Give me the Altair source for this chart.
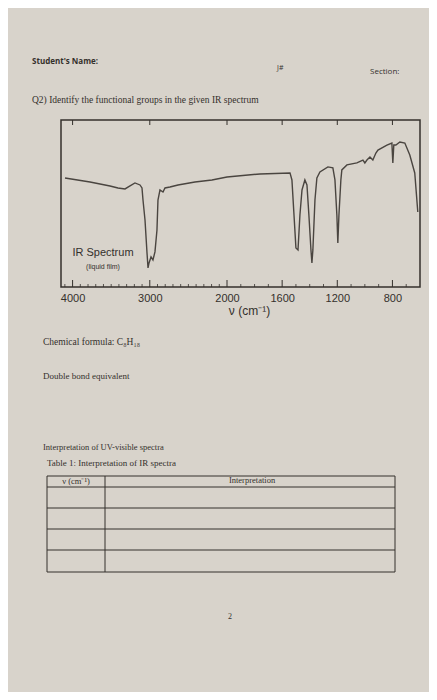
import altair as alt
import pandas as pd

# IR spectrum (wavenumber in cm^-1, transmittance in %)
wavenumber = [4098, 3774, 3515, 3412, 3321, 3256, 3192, 3127, 3101, 3088, 3062, 3036, 3023, 3010,
              2984, 2959, 2933, 2907, 2894, 2868, 2829, 2803, 2739, 2635, 2415, 2195, 2000, 1761,
              1543, 1529, 1514, 1500, 1485, 1471, 1456, 1435, 1420, 1406, 1391, 1384, 1377, 1362,
              1348, 1326, 1268, 1232, 1217, 1203, 1196, 1188, 1174, 1167, 1130, 1058, 1014, 1000,
              985, 963, 942, 920, 905, 840, 804, 797, 790, 775, 746, 710, 674, 638, 616]
transmittance = [65.3, 62.9, 60.5, 59.3, 58.7, 60.5, 62.3, 61.1, 59.3, 52.1, 40.1, 20.4, 11.4, 14.4,
                 18.0, 16.2, 21.0, 34.1, 52.1, 58.1, 56.9, 59.3, 59.9, 61.1, 62.9, 64.1, 65.9, 67.7,
                 68.3, 64.1, 43.1, 23.4, 22.2, 43.1, 58.1, 64.1, 61.1, 43.1, 22.2, 14.4, 22.2, 52.1,
                 65.3, 68.9, 71.9, 71.3, 64.1, 43.1, 26.3, 43.1, 64.1, 70.1, 73.1, 74.3, 76.0, 74.3,
                 76.0, 77.8, 76.0, 80.2, 82.0, 85.0, 86.2, 74.3, 85.0, 85.0, 86.8, 86.2, 79.0, 68.3, 44.9]

axis_labels = [4000, 3000, 2000, 1600, 1200, 800]
minor_ticks = [4100, 3900, 3800, 3700, 3600, 3500, 3400, 3300, 3200, 3100, 2900, 2800, 2700, 2600,
               2500, 2400, 2300, 2200, 2100, 1900, 1800, 1700, 1500, 1400, 1300, 1100, 1000, 900,
               700]

INK = "#34302c"
PAPER = "#d8d3cb"

spec = pd.DataFrame({"wn": wavenumber, "T": transmittance})
majors = pd.DataFrame({"wn": axis_labels})
minors = pd.DataFrame({"wn": minor_ticks})
one = pd.DataFrame({"a": [0]})

x_scale = alt.Scale(domain=[4150, 2000, 600], range=[0, 166, 359], zero=False, nice=False)
y_scale = alt.Scale(domain=[0, 100], zero=False, nice=False)

line = alt.Chart(spec).mark_line(color="#4a4540", strokeWidth=1.4).encode(
    x=alt.X("wn:Q", scale=x_scale,
            axis=alt.Axis(values=axis_labels, format="d", ticks=False, domain=False, grid=False,
                          labelFont="Liberation Sans", labelFontSize=11, labelColor=INK,
                          labelPadding=5, labelFlush=False,
                          title="ν (cm⁻¹)", titleFont="Liberation Sans", titleFontSize=12,
                          titleFontWeight="normal", titleColor=INK, titleX=188, titleY=18,
                          titleBaseline="top")),
    y=alt.Y("T:Q", scale=y_scale, axis=None),
)

bottom_major = alt.Chart(majors).mark_rule(color=INK, strokeWidth=1).encode(
    x=alt.X("wn:Q", scale=x_scale), y=alt.value(167), y2=alt.value(160))
bottom_minor = alt.Chart(minors).mark_rule(color=INK, strokeWidth=0.8).encode(
    x=alt.X("wn:Q", scale=x_scale), y=alt.value(167), y2=alt.value(164))
top_major = alt.Chart(majors).mark_rule(color=INK, strokeWidth=1).encode(
    x=alt.X("wn:Q", scale=x_scale), y=alt.value(0), y2=alt.value(5))


def txt(s, x, y, size=9, font="Liberation Serif", weight="normal", align="left", color=INK):
    return alt.Chart(one).mark_text(text=s, fontSize=size, font=font, fontWeight=weight,
                                    align=align, baseline="middle", color=color).encode(
        x=alt.value(x), y=alt.value(y))


def hrule(x1, x2, y):
    return alt.Chart(one).mark_rule(color=INK, strokeWidth=1).encode(
        x=alt.value(x1), x2=alt.value(x2), y=alt.value(y))


def vrule(x, y1, y2):
    return alt.Chart(one).mark_rule(color=INK, strokeWidth=1).encode(
        x=alt.value(x), y=alt.value(y1), y2=alt.value(y2))


texts = [
    txt("Student's Name:", -29, -58, size=8, font="Open Sans", weight="bold"),
    txt("J#", 216, -52, size=7, font="Open Sans"),
    txt("Section:", 309, -48, size=8, font="Open Sans"),
    txt("Q2) Identify the functional groups in the given IR spectrum", -29, -20, size=9.5),
    txt("IR Spectrum", 42, 133, size=11, font="Liberation Sans", align="center"),
    txt("(liquid film)", 42, 147, size=7, font="Liberation Sans", align="center"),
    txt("Chemical formula: C₈H₁₈", -18, 222, size=9.5),
    txt("Double bond equivalent", -18, 256, size=9),
    txt("Interpretation of UV-visible spectra", -18, 327, size=8.5),
    txt("Table 1: Interpretation of IR spectra", -14, 343, size=9),
    txt("ν (cm⁻¹)", 15, 361, size=8.5, align="center"),
    txt("Interpretation", 191, 360, size=8.5, align="center"),
    txt("2", 167, 497, size=8),
]

table_y = [356, 367, 388, 409, 430, 452]
table = [hrule(-14, 334, y) for y in table_y] + [
    vrule(-14, 356, 452), vrule(44, 356, 452), vrule(334, 356, 452)]

chart = alt.layer(line, bottom_major, bottom_minor, top_major, *texts, *table).properties(
    width=359, height=167,
    padding={"left": 53, "top": 112, "right": 9, "bottom": 405},
    autosize=alt.AutoSizeParams(type="none"),
    background=PAPER,
).configure_view(stroke=INK, strokeWidth=1.5)

chart.save("out.html", embed_options={"renderer": "svg", "actions": False})
